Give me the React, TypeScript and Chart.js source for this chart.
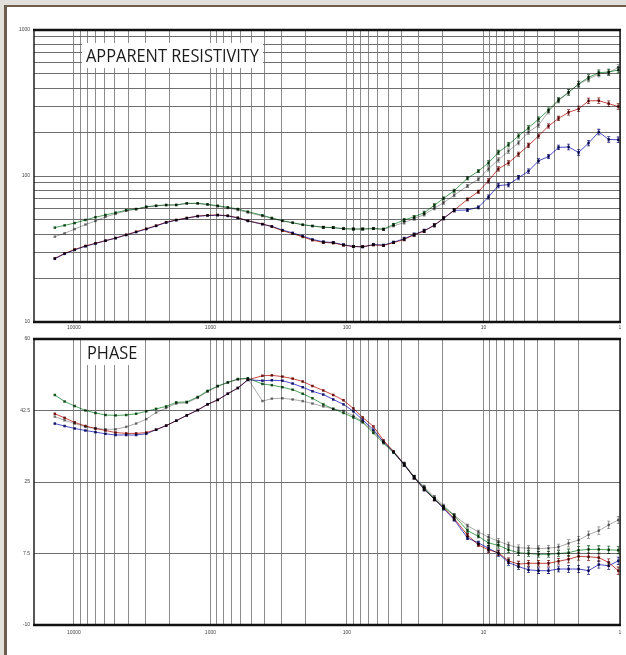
import React, { useEffect, useRef } from "react";
import { Chart, registerables } from "chart.js";

Chart.register(...registerables);

// ---------- DATA ----------
const FREQ = [13800, 11700, 9870, 8230, 6950, 5870, 4950, 4140, 3500, 2950, 2500, 2110, 1780, 1490, 1240, 1050, 884, 746, 630, 532, 416, 355, 297, 250, 211, 179, 149, 126, 106, 89.7, 76.7, 64, 54, 45.6, 38.1, 32.2, 27.2, 22.9, 19.6, 16.4, 13.1, 10.9, 9.2, 7.78, 6.56, 5.54, 4.68, 3.95, 3.34, 2.82, 2.38, 2.01, 1.7, 1.43, 1.21, 1.03];

const RHO_GREEN = [44.3, 45.9, 47.6, 50.0, 52.2, 54.1, 56.1, 58.3, 59.4, 61.6, 62.6, 63.3, 63.3, 65.0, 65.0, 64.0, 62.6, 61.1, 59.4, 57.0, 53.8, 51.6, 49.4, 47.9, 46.4, 45.5, 44.5, 44.3, 43.5, 43.3, 43.3, 43.7, 43.3, 46.6, 50.0, 52.5, 56.0, 63.0, 70.3, 79.3, 96.4, 108, 123, 145, 164, 188, 214, 245, 283, 332, 374, 427, 474, 510, 516, 532];
const RHO_GRAY = [38.4, 40.5, 43.3, 46.5, 49.2, 52.5, 55.0, 57.8, 59.2, 61.3, 62.4, 63.2, 63.4, 64.8, 64.8, 63.6, 62.0, 60.4, 58.5, 56.2, 53.2, 51.2, 49.2, 47.8, 46.3, 45.4, 44.6, 44.3, 43.6, 43.4, 43.4, 43.6, 43.0, 45.5, 48.0, 51.0, 54.4, 60.1, 65.6, 73.8, 85.5, 94.9, 112, 129, 148, 169, 200, 223, 276, 328, 374, 425, 462, 500, 510, 555];
const RHO_RED = [27.3, 29.5, 31.4, 33.2, 34.6, 36.1, 37.6, 39.6, 41.5, 43.5, 45.7, 48.2, 50.0, 51.6, 53.2, 53.8, 54.1, 53.5, 51.8, 49.4, 46.9, 45.0, 42.2, 40.3, 38.3, 36.3, 35.1, 34.8, 33.6, 32.9, 32.8, 33.7, 33.5, 34.9, 36.8, 39.5, 42.0, 46.0, 51.3, 58.2, 69.2, 78.1, 92.5, 112, 123, 141, 162, 188, 220, 248, 273, 288, 327, 328, 313, 299];
const RHO_BLUE = [27.1, 29.3, 31.2, 33.0, 34.5, 36.0, 37.5, 39.4, 41.3, 43.3, 45.5, 48.0, 49.8, 51.4, 53.0, 53.6, 53.9, 53.3, 51.6, 49.2, 46.7, 45.2, 42.6, 40.8, 38.8, 36.8, 35.4, 35.0, 33.8, 32.9, 32.7, 33.9, 33.6, 35.2, 37.2, 39.8, 42.2, 46.0, 51.3, 58.2, 58.5, 61.0, 71.8, 85.9, 87.3, 97.4, 108, 127, 136, 157, 158, 145, 168, 200, 178, 177];

const PH_GREEN = [46.3, 44.7, 43.6, 42.5, 41.9, 41.4, 41.3, 41.4, 41.7, 42.3, 42.9, 43.5, 44.5, 44.6, 45.8, 47.3, 48.5, 49.4, 50.2, 50.4, 49.0, 48.7, 48.2, 47.6, 46.6, 45.5, 44.0, 42.9, 41.9, 40.8, 39.6, 37.0, 34.5, 32.2, 29.3, 26.2, 23.6, 20.9, 18.9, 16.8, 13.1, 11.7, 10.1, 9.5, 8.4, 7.7, 7.5, 7.3, 7.3, 7.5, 7.7, 8.3, 8.5, 8.5, 8.4, 8.3];
const PH_GRAY = [41.0, 40.1, 39.3, 38.5, 38.1, 37.9, 37.9, 38.5, 39.3, 40.4, 42.0, 43.1, 44.2, 44.4, 45.6, 47.1, 48.4, 49.3, 50.1, 50.3, 44.8, 45.4, 45.5, 45.2, 44.8, 44.2, 43.5, 42.9, 42.4, 41.2, 39.8, 37.4, 34.8, 32.5, 29.5, 26.3, 23.8, 21.3, 19.2, 16.9, 14.3, 12.8, 11.5, 10.5, 9.6, 8.9, 8.8, 8.7, 8.8, 9.1, 10.0, 10.8, 12.1, 13.1, 14.5, 15.7];
const PH_RED = [41.7, 40.7, 39.6, 38.7, 38.1, 37.6, 37.1, 36.9, 36.9, 37.1, 37.8, 38.8, 40.0, 41.3, 42.6, 44.0, 45.1, 46.6, 48.0, 50.0, 51.0, 51.1, 50.8, 50.3, 49.6, 48.5, 47.4, 46.3, 45.0, 43.0, 40.8, 38.6, 35.2, 32.5, 29.3, 26.1, 23.3, 20.8, 18.7, 16.1, 12.0, 9.6, 8.4, 7.7, 5.7, 4.9, 5.1, 5.1, 5.1, 5.6, 6.1, 6.8, 6.7, 6.5, 5.3, 3.3];
const PH_BLUE = [39.3, 38.7, 38.1, 37.6, 37.2, 36.8, 36.5, 36.5, 36.5, 36.8, 37.8, 38.8, 40.0, 41.3, 42.6, 44.0, 45.1, 46.6, 48.0, 50.0, 49.8, 49.9, 49.8, 49.1, 48.2, 47.2, 46.4, 45.2, 44.0, 42.3, 40.2, 37.8, 34.8, 32.3, 29.2, 26.1, 23.2, 20.8, 18.5, 15.8, 11.3, 10.1, 8.8, 7.5, 5.3, 4.3, 3.5, 3.3, 3.3, 3.7, 3.7, 3.7, 3.3, 4.8, 4.5, 5.7];

// relative error on resistivity, degrees on phase (error bars)
const RHO_ERR = [0, 0, 0, 0, 0, 0, 0, 0, 0, 0, 0, 0, 0, 0, 0, 0, 0, 0, 0, 0, 0, 0, 0, 0, 0, 0, 0.015, 0.015, 0.015, 0.015, 0.015, 0.015, 0.015, 0.015, 0.025, 0.025, 0.025, 0.025, 0.025, 0.025, 0.025, 0.025, 0.035, 0.035, 0.035, 0.035, 0.035, 0.035, 0.035, 0.035, 0.045, 0.045, 0.045, 0.045, 0.045, 0.045];
const PH_ERR = [0, 0, 0, 0, 0, 0, 0, 0, 0, 0, 0, 0, 0, 0, 0, 0, 0, 0, 0, 0, 0, 0, 0, 0, 0, 0, 0, 0, 0, 0, 0, 0, 0, 0, 0.4, 0.4, 0.4, 0.4, 0.4, 0.4, 0.4, 0.4, 0.7, 0.7, 0.7, 0.7, 0.7, 0.7, 0.7, 0.7, 0.9, 0.9, 0.9, 0.9, 0.9, 0.9];

const X_LABEL_VALUES = [1, 10, 100, 1000, 10000];
const RHO_LABEL_VALUES = [10, 100, 1000];
const PHASE_TICKS = [-10, 7.5, 25, 42.5, 60];

const TITLE_RHO = "APPARENT RESISTIVITY";
const TITLE_PHASE = "PHASE";

const SERIES_STYLE = [
  { name: "gray", line: "#ababab", marker: "#858585" },
  { name: "green", line: "#4ca35e", marker: "#25612f" },
  { name: "blue", line: "#4c4cca", marker: "#23237e" },
  { name: "red", line: "#c6473f", marker: "#7e2222" },
];

// ---------- helpers ----------
function logGrid(lo: number, hi: number): number[] {
  const out: number[] = [];
  for (let d = lo; d < hi; d *= 10) {
    for (let k = 1; k < 10; k++) out.push(d * k);
  }
  out.push(hi);
  return out;
}
const X_GRID = logGrid(1, 10000);
const RHO_GRID = logGrid(10, 1000);

const isDecade = (v: number, list: number[]) => list.some((d) => Math.abs(d - v) < 1e-6 * d);

function makeDecor(kind: "top" | "bottom", values: number[][], errs: number[]) {
  return {
    id: "decor_" + kind,
    beforeDraw(chart: any) {
      const { ctx, chartArea: a } = chart;
      ctx.save();
      ctx.fillStyle = "#ffffff";
      ctx.fillRect(a.left, a.top, a.right - a.left, a.bottom - a.top);
      ctx.restore();
    },
    beforeDatasetsDraw(chart: any) {
      const { ctx } = chart;
      ctx.save();
      ctx.font = '18px "Open Sans"';
      const sx = 173 / ctx.measureText(TITLE_RHO).width;
      ctx.fillStyle = "#ffffff";
      if (kind === "top") {
        ctx.fillRect(82, 43, 181, 25);
      } else {
        ctx.fillRect(83, 8, 58, 25);
      }
      ctx.fillStyle = "#1a1a1a";
      ctx.textBaseline = "alphabetic";
      ctx.textAlign = "left";
      if (kind === "top") {
        ctx.translate(86, 62);
        ctx.scale(sx, 1);
        ctx.fillText(TITLE_RHO, 0, 0);
      } else {
        ctx.translate(87, 26.5);
        ctx.scale(sx, 1);
        ctx.fillText(TITLE_PHASE, 0, 0);
      }
      ctx.restore();
      ctx.save();
      ctx.globalCompositeOperation = "multiply";
    },
    afterDatasetsDraw(chart: any) {
      const { ctx } = chart;
      const xs = chart.scales.x;
      const ys = chart.scales.y;
      ctx.lineWidth = 0.8;
      values.forEach((vals, d) => {
        ctx.strokeStyle = SERIES_STYLE[d].marker;
        vals.forEach((v, i) => {
          const e = errs[i];
          if (!e) return;
          const px = xs.getPixelForValue(FREQ[i]);
          const hi = kind === "top" ? v * (1 + e) : v + e;
          const lo = kind === "top" ? v / (1 + e) : v - e;
          const y1 = ys.getPixelForValue(hi);
          const y2 = ys.getPixelForValue(lo);
          ctx.beginPath();
          ctx.moveTo(px, y1);
          ctx.lineTo(px, y2);
          ctx.moveTo(px - 1.5, y1);
          ctx.lineTo(px + 1.5, y1);
          ctx.moveTo(px - 1.5, y2);
          ctx.lineTo(px + 1.5, y2);
          ctx.stroke();
        });
      });
      ctx.restore();
    },
    afterDraw(chart: any) {
      const { ctx, chartArea: a } = chart;
      ctx.save();
      ctx.strokeStyle = "#111111";
      ctx.lineWidth = 1.4;
      ctx.beginPath();
      ctx.moveTo(a.left, a.top);
      ctx.lineTo(a.left, a.bottom);
      ctx.moveTo(a.right, a.top);
      ctx.lineTo(a.right, a.bottom);
      ctx.stroke();
      ctx.lineWidth = 2.6;
      ctx.beginPath();
      ctx.moveTo(a.left - 1, a.top);
      ctx.lineTo(a.right + 1, a.top);
      ctx.moveTo(a.left - 1, a.bottom);
      ctx.lineTo(a.right + 1, a.bottom);
      ctx.stroke();
      ctx.restore();
    },
  };
}

function buildConfig(kind: "top" | "bottom"): any {
  const isTop = kind === "top";
  const values = isTop
    ? [RHO_GRAY, RHO_GREEN, RHO_BLUE, RHO_RED]
    : [PH_GRAY, PH_GREEN, PH_BLUE, PH_RED];
  const datasets = values.map((vals, d) => ({
    label: SERIES_STYLE[d].name,
    data: FREQ.map((f, i) => ({ x: f, y: vals[i] })),
    borderColor: SERIES_STYLE[d].line,
    backgroundColor: SERIES_STYLE[d].marker,
    pointBackgroundColor: SERIES_STYLE[d].marker,
    pointBorderWidth: 0,
    pointRadius: 1.8,
    pointStyle: "rect",
    borderWidth: 1,
    tension: 0,
    fill: false,
  }));

  const tickFont = { family: '"Liberation Sans", Arial, sans-serif', size: 5 };

  const yScale = isTop
    ? {
        type: "logarithmic",
        min: 10,
        max: 1000,
        afterBuildTicks: (s: any) => {
          s.ticks = RHO_GRID.map((v) => ({ value: v }));
        },
        afterFit: (s: any) => {
          s.width = 34;
        },
        ticks: {
          autoSkip: false,
          padding: 4,
          font: tickFont,
          color: "#444444",
          callback: (v: number) => (isDecade(v, RHO_LABEL_VALUES) ? String(Math.round(v)) : ""),
        },
        grid: { color: "#6e6e6e", lineWidth: 1, drawTicks: false },
        border: { display: false },
      }
    : {
        type: "linear",
        min: -10,
        max: 60,
        afterBuildTicks: (s: any) => {
          s.ticks = PHASE_TICKS.map((v) => ({ value: v }));
        },
        afterFit: (s: any) => {
          s.width = 34;
        },
        ticks: {
          autoSkip: false,
          padding: 4,
          font: tickFont,
          color: "#444444",
          callback: (v: number) => String(v),
        },
        grid: { color: "#6e6e6e", lineWidth: 1, drawTicks: false },
        border: { display: false },
      };

  return {
    type: "line",
    data: { datasets },
    options: {
      animation: false,
      responsive: false,
      events: [],
      layout: { padding: { top: isTop ? 30 : 2, right: 6, left: 0, bottom: isTop ? 0 : 18 } },
      plugins: { legend: { display: false }, tooltip: { enabled: false } },
      scales: {
        x: {
          type: "logarithmic",
          reverse: true,
          min: 1,
          max: 19600,
          afterBuildTicks: (s: any) => {
            s.ticks = X_GRID.map((v) => ({ value: v }));
          },
          afterFit: (s: any) => {
            s.height = isTop ? 10 : 12;
          },
          ticks: {
            autoSkip: false,
            maxRotation: 0,
            minRotation: 0,
            padding: isTop ? 3 : 5,
            font: tickFont,
            color: "#444444",
            callback: (v: number) => (isDecade(v, X_LABEL_VALUES) ? String(Math.round(v)) : ""),
          },
          grid: { color: "#8c8c8c", lineWidth: 1, drawTicks: false },
          border: { display: false },
        },
        y: yScale,
      },
    },
    plugins: [makeDecor(kind, values, isTop ? RHO_ERR : PH_ERR)],
  };
}

export default function App() {
  const topRef = useRef<HTMLCanvasElement>(null);
  const botRef = useRef<HTMLCanvasElement>(null);

  useEffect(() => {
    document.body.style.margin = "0";
    const c1 = new Chart(topRef.current as HTMLCanvasElement, buildConfig("top"));
    const c2 = new Chart(botRef.current as HTMLCanvasElement, buildConfig("bottom"));
    return () => {
      c1.destroy();
      c2.destroy();
    };
  }, []);

  return (
    <div style={{ position: "relative", width: 626, height: 655, background: "#e3dfda", overflow: "hidden" }}>
      <div
        style={{
          position: "absolute",
          left: 4,
          top: 5,
          right: 0,
          bottom: 0,
          background: "#ffffff",
          borderTop: "2px solid #6f5e50",
          borderLeft: "3px solid #6f5e50",
        }}
      />
      <canvas
        ref={topRef}
        width={626}
        height={332}
        style={{ position: "absolute", left: 0, top: 0, width: 626, height: 332 }}
      />
      <canvas
        ref={botRef}
        width={626}
        height={323}
        style={{ position: "absolute", left: 0, top: 332, width: 626, height: 323 }}
      />
    </div>
  );
}
